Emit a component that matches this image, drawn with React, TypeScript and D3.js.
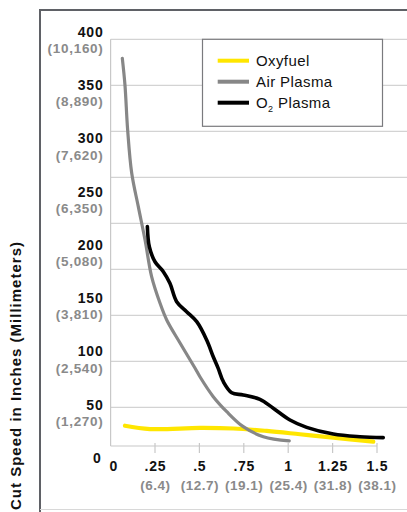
import React from "react";
import * as d3 from "d3";

const yTicks = [0, 50, 100, 150, 200, 250, 300, 350, 400];
const yTickMm = ["", "(1,270)", "(2,540)", "(3,810)", "(5,080)", "(6,350)", "(7,620)", "(8,890)", "(10,160)"];
const xTicks = [0, 0.25, 0.5, 0.75, 1, 1.25, 1.5];
const xTickLabels = ["0", ".25", ".5", ".75", "1", "1.25", "1.5"];
const xTickMm = ["", "(6.4)", "(12.7)", "(19.1)", "(25.4)", "(31.8)", "(38.1)"];

const oxyX = [0.081, 0.222, 0.503, 0.691, 0.879, 1.066, 1.254, 1.479];
const oxyY = [30.3, 27.2, 28.2, 27.7, 25.4, 22.3, 19.1, 15.3];

const airX = [0.066, 0.081, 0.096, 0.119, 0.156, 0.194, 0.231, 0.278, 0.316, 0.391, 0.475, 0.503, 0.578, 0.654, 0.747, 0.86, 1.006];
const airY = [375.3, 350.0, 308.0, 267.3, 236.0, 204.7, 170.3, 145.5, 129.6, 108.0, 84.5, 76.3, 57.6, 43.5, 29.4, 20.0, 16.0];

const o2X = [0.207, 0.218, 0.25, 0.297, 0.334, 0.372, 0.428, 0.485, 0.541, 0.578, 0.606, 0.635, 0.682, 0.747, 0.841, 0.916, 1.01, 1.104, 1.254, 1.404, 1.535];
const o2Y = [217.4, 198.4, 184.3, 174.9, 164.0, 146.8, 137.4, 128.0, 110.8, 95.1, 84.2, 71.6, 61.3, 59.2, 55.1, 46.7, 35.7, 28.8, 22.5, 20.0, 19.1];

const seriesNames = ["Oxyfuel", "Air Plasma", "O2 Plasma"];
const seriesColors = ["#ffe600", "#878787", "#000000"];

const gridValues = [0, 50, 100, 150, 200, 250, 300, 350, 400];

const FONT = "'Liberation Sans', Arial, Helvetica, sans-serif";

export default function App() {
  const W = 407, H = 512;
  const x = d3.scaleLinear().domain([0, 1.5]).range([110.6, 377]);
  const y = d3.scaleLinear().domain([0, 400]).range([458, 32]);
  const yGrid = d3.scaleLinear().domain([0, 400]).range([407.3, 39.3]);
  const axisY = 446;

  const line = d3
    .line<[number, number]>()
    .x((d) => x(d[0]))
    .y((d) => y(d[1]))
    .curve(d3.curveCatmullRom.alpha(0.5));

  const series = [
    { pts: oxyX.map((v, i) => [v, oxyY[i]] as [number, number]), w: 4.2 },
    { pts: airX.map((v, i) => [v, airY[i]] as [number, number]), w: 3.2 },
    { pts: o2X.map((v, i) => [v, o2Y[i]] as [number, number]), w: 3.6 },
  ];

  return (
    <svg width={W} height={H} style={{ position: "absolute", left: 0, top: 0, background: "#fff" }} fontFamily={FONT}>
      {/* frame */}
      <line x1={39.5} x2={W} y1={10} y2={10} stroke="#5f6166" strokeWidth={2} />
      <line x1={40} x2={40} y1={9} y2={H} stroke="#5f6166" strokeWidth={2} />
      <line x1={40} x2={W} y1={509.5} y2={509.5} stroke="#d8d8d8" strokeWidth={1} />

      {/* grid */}
      {gridValues.map((g) => (
        <line key={g} x1={x(0)} x2={W} y1={yGrid(g)} y2={yGrid(g)} stroke="#c8c8c8" strokeWidth={1} />
      ))}
      <line x1={x(0)} x2={x(0)} y1={yGrid(400)} y2={axisY} stroke="#c8c8c8" strokeWidth={1.2} />
      <line x1={x(0)} x2={x(1.5)} y1={axisY} y2={axisY} stroke="#c8c8c8" strokeWidth={1.2} />
      {xTicks.slice(1).map((t) => (
        <line key={t} x1={x(t)} x2={x(t)} y1={axisY - 3} y2={axisY + 7} stroke="#c8c8c8" strokeWidth={1.2} />
      ))}

      {/* y tick labels */}
      {yTicks.map((t, i) => (
        <g key={t}>
          <text x={t === 0 ? 101.5 : 103.5} y={y(t)} dy="0.35em" textAnchor="end" fontSize={14} letterSpacing={0.8} fontWeight="bold" fill="#111">
            {String(t)}
          </text>
          {yTickMm[i] && (
            <text x={103.5} y={y(t) + 16.5} dy="0.35em" textAnchor="end" fontSize={13.5} letterSpacing={0.7} fontWeight="bold" fill="#8a8a8a">
              {yTickMm[i]}
            </text>
          )}
        </g>
      ))}

      {/* x tick labels */}
      {xTicks.map((t, i) => (
        <g key={t}>
          <text x={t === 0 ? 113.8 : x(t) + 0.4} y={466} dy="0.35em" textAnchor="middle" fontSize={14} letterSpacing={0.7} fontWeight="bold" fill="#111">
            {xTickLabels[i]}
          </text>
          {xTickMm[i] && (
            <text x={x(t) + 0.4} y={485} dy="0.35em" textAnchor="middle" fontSize={13.5} letterSpacing={0.5} fontWeight="bold" fill="#8a8a8a">
              {xTickMm[i]}
            </text>
          )}
        </g>
      ))}

      {/* y axis title */}
      <text
        transform={`translate(16,376) rotate(-90)`}
        textAnchor="middle"
        dy="0.35em"
        fontSize={15}
        fontWeight="bold"
        fill="#111"
        textLength={268}
        lengthAdjust="spacing"
      >
        Cut Speed in Inches (Millimeters)
      </text>

      {/* series lines */}
      {series.map((s, i) => (
        <path key={i} d={line(s.pts) || ""} fill="none" stroke={seriesColors[i]} strokeWidth={s.w} strokeLinecap="round" strokeLinejoin="round" />
      ))}

      {/* legend */}
      <rect x={202.5} y={39.3} width={180} height={87} fill="#fff" stroke="#7a7a7e" strokeWidth={1.2} />
      {seriesNames.map((n, i) => {
        const ly = 60.7 + i * 21;
        return (
          <g key={n}>
            <line x1={217.7} x2={249} y1={ly} y2={ly} stroke={seriesColors[i]} strokeWidth={4} />
            <text x={256} y={ly} dy="0.35em" fontSize={15} letterSpacing={0.4} fill="#111">
              {i === 2 ? (
                <>
                  O<tspan fontSize={9} dy="4">2</tspan>
                  <tspan dy="-4"> Plasma</tspan>
                </>
              ) : (
                n
              )}
            </text>
          </g>
        );
      })}
    </svg>
  );
}
